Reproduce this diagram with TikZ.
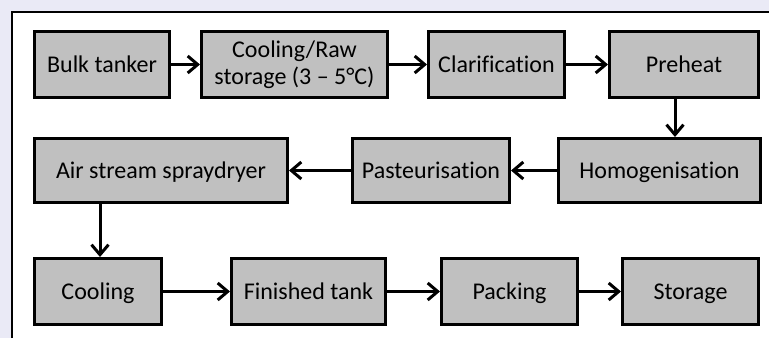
\documentclass[tikz,border=0pt]{standalone}
\usepackage{fontspec}
\setmainfont{Carlito}[Ligatures=NoCommon]
\usetikzlibrary{arrows.meta}
\definecolor{boxgray}{RGB}{192,192,192}
\definecolor{wm}{RGB}{234,234,246}
\tikzset{
  stepbox/.style={draw=black, line width=3pt, fill=boxgray, inner sep=0pt,
    font=\fontsize{24}{27}\selectfont, align=center},
  oneline/.style={text height=15.5pt, text depth=0pt},
  flow/.style={line width=3pt, -{Straight Barb[length=10pt,width=17pt]}},
  frameline/.style={line width=1.8pt}
}
\begin{document}
\begin{tikzpicture}[x=1pt,y=-1pt]
\useasboundingbox (0,0) rectangle (769,338);
\fill[wm] (0,0) rectangle (769,338);
\fill[white] (12,12) rectangle (769,338);
\draw[frameline] (12,338) -- (12,12) -- (769,12);
% row 1
\node[stepbox, oneline, minimum width=135pt, minimum height=66pt] (bulk) at (102,64.5) {Bulk tanker};
\node[stepbox, minimum width=186pt, minimum height=66pt] (raw) at (294.5,64.5) {Cooling/Raw\\storage (3 – 5°C)};
\node[stepbox, oneline, minimum width=136pt, minimum height=66pt] (clar) at (496.5,64.5) {Clarification};
\node[stepbox, oneline, minimum width=149pt, minimum height=66pt] (pre) at (684,64.5) {Preheat};
% row 2
\node[stepbox, oneline, minimum width=253pt, minimum height=64pt] (air) at (161,170.5) {Air stream spraydryer};
\node[stepbox, oneline, minimum width=157pt, minimum height=64pt] (past) at (431,170.5) {Pasteurisation};
\node[stepbox, oneline, minimum width=202pt, minimum height=64pt] (homog) at (659.5,170.5) {Homogenisation};
% row 3
\node[stepbox, oneline, minimum width=127pt, minimum height=66pt] (cool) at (98,291.5) {Cooling};
\node[stepbox, oneline, minimum width=154pt, minimum height=66pt] (fin) at (308.5,291.5) {Finished tank};
\node[stepbox, oneline, minimum width=136pt, minimum height=66pt] (pack) at (509.5,291.5) {Packing};
\node[stepbox, oneline, minimum width=136pt, minimum height=66pt] (stor) at (690.5,291.5) {Storage};
% connectors
\coordinate (hx) at (675,0);
\coordinate (cx) at (100,0);
\draw[flow] (bulk) -- (raw);
\draw[flow] (raw) -- (clar);
\draw[flow] (clar) -- (pre);
\draw[flow] (pre.south -| hx) -- (homog.north -| hx);
\draw[flow] (homog) -- (past);
\draw[flow] (past) -- (air);
\draw[flow] (air.south -| cx) -- (cool.north -| cx);
\draw[flow] (cool) -- (fin);
\draw[flow] (fin) -- (pack);
\draw[flow] (pack) -- (stor);
\end{tikzpicture}
\end{document}
